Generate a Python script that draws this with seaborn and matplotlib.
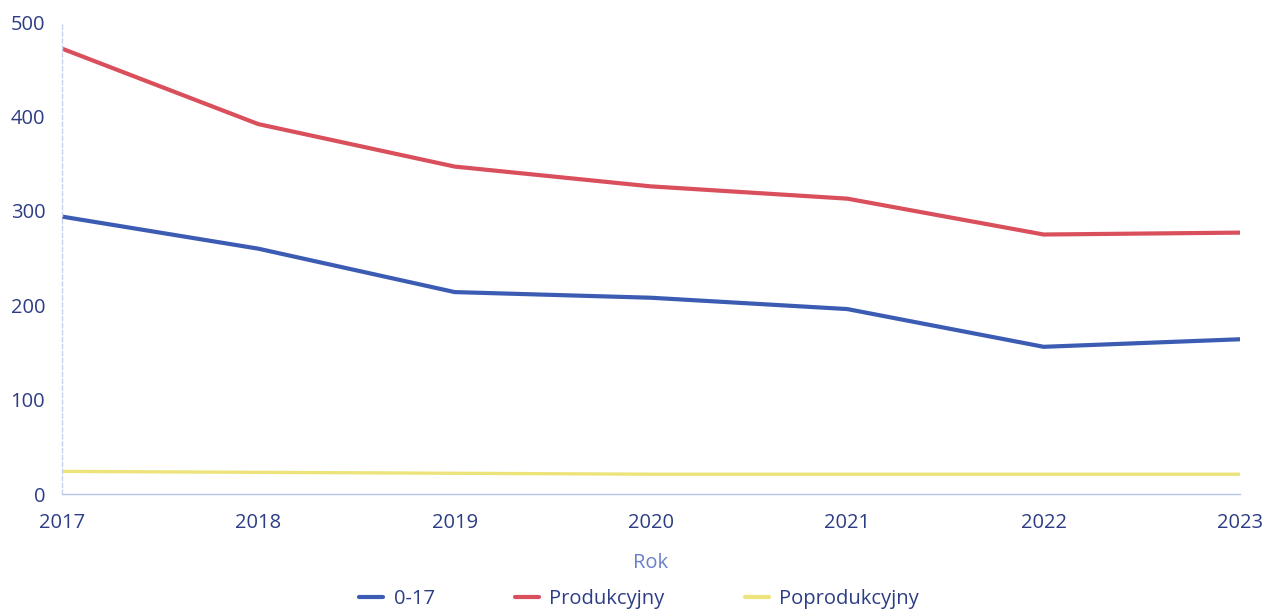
import pandas as pd
import matplotlib.pyplot as plt
import seaborn as sns

# dane
years = [2017, 2018, 2019, 2020, 2021, 2022, 2023]
grupa_0_17 = [294, 260, 214, 208, 196, 156, 164]
produkcyjny = [472, 392, 347, 326, 313, 275, 277]
poprodukcyjny = [24, 23, 22, 21, 21, 21, 21]

series_names = ["0-17", "Produkcyjny", "Poprodukcyjny"]
colors = ["#3c5cb4", "#d94f5c", "#ece47a"]

df = pd.DataFrame({
    "Rok": years * 3,
    "value": grupa_0_17 + produkcyjny + poprodukcyjny,
    "grupa": [series_names[0]] * 7 + [series_names[1]] * 7 + [series_names[2]] * 7,
})

sns.set_theme(style="white")
plt.rcParams['font.family'] = ['Open Sans', 'DejaVu Sans']

text_col = "#2c3d85"

fig = plt.figure(figsize=(12.64, 6.16), dpi=100)
ax = fig.add_axes([0.049, 0.198, 0.932, 0.766])

sns.lineplot(data=df, x="Rok", y="value", hue="grupa", palette=colors,
             hue_order=series_names, linewidth=3, ax=ax)
# żółta linia trochę cieńsza
ax.lines[2].set_linewidth(2.4)

ax.set_xlim(2017, 2023)
ax.set_ylim(0, 500)
ax.set_xticks(years)
ax.set_yticks([0, 100, 200, 300, 400, 500])
ax.tick_params(axis="both", length=0, labelsize=14.5, labelcolor=text_col)
ax.tick_params(axis="x", pad=14)
ax.tick_params(axis="y", pad=12)

ax.set_ylabel("")
ax.set_xlabel("Rok", fontsize=14.5, color="#6b80c9", labelpad=14)

for s in ["top", "right"]:
    ax.spines[s].set_visible(False)
ax.spines["left"].set_color("#c9d2ec")
ax.spines["left"].set_linestyle((0, (3, 2)))
ax.spines["left"].set_linewidth(1)
ax.spines["bottom"].set_color("#b9c6ea")
ax.spines["bottom"].set_linewidth(1)

leg = ax.legend(loc="upper center", bbox_to_anchor=(0.49, -0.163), ncol=3,
                frameon=False, fontsize=14.5, handlelength=1.2,
                columnspacing=4.0, handletextpad=0.5)
for t in leg.get_texts():
    t.set_color(text_col)

plt.savefig("out.png", dpi=100)
